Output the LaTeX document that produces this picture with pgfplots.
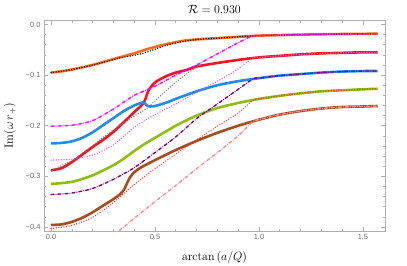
\documentclass[border=0pt]{standalone}
\usepackage{fontspec}
\usepackage{pgfplots}
\pgfplotsset{compat=1.18}
\newfontfamily\tickfont{Liberation Sans}
\definecolor{corange}{RGB}{255,105,25}
\definecolor{cred}{RGB}{245,20,30}
\definecolor{cblue}{RGB}{30,140,240}
\definecolor{cgreen}{RGB}{140,190,20}
\definecolor{cbrown}{RGB}{170,75,25}
\definecolor{cmag}{RGB}{255,0,255}
\definecolor{cviolet}{RGB}{210,90,230}
\definecolor{cpurple}{RGB}{128,0,128}
\definecolor{creddot}{RGB}{255,50,50}
\definecolor{cpale}{RGB}{255,140,140}
\definecolor{cgray}{RGB}{120,120,120}
\definecolor{cframe}{RGB}{175,175,175}
\definecolor{ctick}{RGB}{110,110,110}
\tikzset{
  solidc/.style={line width=2.6bp, line join=round, smooth, tension=0.4},
  mdot/.style={line width=1.5bp, line cap=round, dash pattern=on 0.01bp off 2.6bp, smooth, tension=0.4},
  mdashdot/.style={line width=1.4bp, line cap=round, dash pattern=on 3bp off 2bp on 0.01bp off 2bp, smooth, tension=0.4},
}
\begin{document}
\begin{tikzpicture}
\useasboundingbox (-44bp,-35bp) rectangle (363bp,231bp);
\begin{axis}[
  at={(0,0)}, anchor=south west,
  scale only axis, width=341bp, height=210.3bp,
  xmin=-0.0337, xmax=1.606, ymin=-0.408, ymax=0.0075,
  axis line style={cframe, line width=0.6bp},
  tick style={cframe, line width=0.6bp},
  major tick length=4bp, minor tick length=2.2bp,
  tick align=inside,
  xtick={0,0.5,1,1.5}, xticklabels={0.0,0.5,1.0,1.5},
  ytick={-0.4,-0.3,-0.2,-0.1,0}, yticklabels={−0.4,−0.3,−0.2,−0.1,0.0},
  minor x tick num=4, minor y tick num=4,
  ticklabel style={font=\tickfont\fontsize{7.5}{9}\selectfont, text=ctick},
  every axis title shift=0pt,
  title={$\mathcal{R} = 0.930$},
  title style={font=\fontsize{12}{14}\selectfont, at={(axis description cs:0.5,1.036)}, anchor=base},
  xlabel={$\arctan\,(a/Q)$},
  xlabel style={font=\fontsize{12}{14}\selectfont, at={(axis description cs:0.5,-0.14)}, anchor=base},
  ylabel={$\mathrm{Im}(\omega\, r_+)$},
  ylabel style={font=\fontsize{12}{14}\selectfont, at={(axis description cs:-0.091,0.5)}, anchor=base},
]
% solid curves
\addplot[solidc, corange] coordinates {(0,-0.095)(0.05,-0.0925)(0.107,-0.0885)(0.2,-0.080)(0.268,-0.072)(0.33,-0.065)(0.396,-0.0575)(0.476,-0.047)(0.564,-0.038)(0.64,-0.032)(0.716,-0.029)(0.8,-0.027)(0.875,-0.025)(1.0,-0.022)(1.1,-0.021)(1.2,-0.020)(1.36,-0.019)(1.5,-0.0185)(1.571,-0.018)};
\addplot[solidc, cred] coordinates {(0,-0.288)(0.05,-0.284)(0.1,-0.272)(0.15,-0.257)(0.2,-0.242)(0.25,-0.228)(0.3,-0.212)(0.35,-0.193)(0.4,-0.173)(0.43,-0.162)(0.445,-0.155)(0.455,-0.146)(0.463,-0.136)(0.474,-0.127)(0.487,-0.120)(0.505,-0.113)(0.53,-0.107)(0.56,-0.101)(0.6,-0.095)(0.65,-0.090)(0.7,-0.083)(0.8,-0.076)(0.9,-0.070)(1.0,-0.065)(1.1,-0.062)(1.2,-0.059)(1.3,-0.057)(1.4,-0.056)(1.5,-0.055)(1.571,-0.055)};
\addplot[solidc, cblue] coordinates {(0,-0.235)(0.05,-0.234)(0.1,-0.231)(0.15,-0.224)(0.2,-0.213)(0.25,-0.199)(0.3,-0.185)(0.35,-0.171)(0.4,-0.160)(0.44,-0.154)(0.45,-0.155)(0.46,-0.160)(0.475,-0.162)(0.5,-0.161)(0.55,-0.155)(0.6,-0.147)(0.7,-0.132)(0.8,-0.120)(0.9,-0.112)(1.0,-0.106)(1.1,-0.101)(1.2,-0.098)(1.3,-0.095)(1.4,-0.093)(1.5,-0.092)(1.571,-0.092)};
\addplot[solidc, cgreen] coordinates {(0,-0.315)(0.1,-0.311)(0.2,-0.298)(0.3,-0.278)(0.35,-0.265)(0.4,-0.250)(0.45,-0.236)(0.5,-0.224)(0.6,-0.200)(0.7,-0.180)(0.8,-0.165)(0.9,-0.155)(1.0,-0.147)(1.1,-0.141)(1.2,-0.136)(1.3,-0.132)(1.4,-0.130)(1.5,-0.128)(1.571,-0.127)};
\addplot[solidc, cbrown] coordinates {(0,-0.396)(0.05,-0.395)(0.1,-0.390)(0.15,-0.382)(0.2,-0.371)(0.25,-0.358)(0.3,-0.345)(0.33,-0.336)(0.35,-0.327)(0.365,-0.314)(0.38,-0.302)(0.4,-0.292)(0.43,-0.283)(0.5,-0.268)(0.6,-0.248)(0.7,-0.230)(0.8,-0.214)(0.9,-0.200)(1.0,-0.188)(1.1,-0.178)(1.2,-0.171)(1.3,-0.166)(1.4,-0.163)(1.5,-0.162)(1.571,-0.161)};
% dotted / dash-dotted curves
\addplot[mdot, black] coordinates {(0,-0.095)(0.05,-0.0925)(0.107,-0.0885)(0.2,-0.080)(0.268,-0.073)(0.33,-0.066)(0.4,-0.061)(0.45,-0.056)(0.5,-0.049)(0.564,-0.040)(0.64,-0.033)(0.716,-0.029)(0.8,-0.027)(0.875,-0.025)(1.0,-0.022)(1.1,-0.021)(1.2,-0.020)(1.36,-0.019)(1.5,-0.0185)(1.571,-0.018)};
\addplot[mdashdot, cmag] coordinates {(0,-0.201)(0.1,-0.199)(0.2,-0.190)(0.3,-0.167)(0.4,-0.140)(0.5,-0.122)(0.6,-0.100)(0.7,-0.080)(0.8,-0.058)(0.9,-0.036)(0.97,-0.022)(1.0,-0.022)(1.1,-0.021)(1.2,-0.020)(1.36,-0.019)(1.5,-0.0185)(1.571,-0.018)};
\addplot[mdot, cgray] coordinates {(0,-0.288)(0.1,-0.269)(0.2,-0.239)(0.3,-0.208)(0.4,-0.181)(0.46,-0.166)(0.5,-0.151)(0.55,-0.132)(0.6,-0.114)(0.65,-0.098)(0.7,-0.084)(0.72,-0.080)};
\addplot[mdot, cviolet] coordinates {(0,-0.268)(0.1,-0.266)(0.2,-0.258)(0.3,-0.238)(0.4,-0.203)(0.5,-0.178)(0.6,-0.157)(0.7,-0.134)(0.8,-0.112)(0.9,-0.088)(0.97,-0.066)(1.0,-0.065)(1.1,-0.062)(1.2,-0.059)(1.3,-0.057)(1.4,-0.056)(1.5,-0.055)(1.571,-0.055)};
\addplot[mdashdot, cpurple] coordinates {(0,-0.336)(0.1,-0.333)(0.2,-0.324)(0.3,-0.306)(0.4,-0.283)(0.5,-0.253)(0.6,-0.222)(0.7,-0.186)(0.8,-0.157)(0.9,-0.128)(0.973,-0.107)(1.0,-0.106)(1.1,-0.101)(1.2,-0.098)(1.3,-0.095)(1.4,-0.093)(1.5,-0.092)(1.571,-0.092)};
\addplot[mdot, creddot] coordinates {(0,-0.403)(0.1,-0.397)(0.2,-0.381)(0.3,-0.352)(0.4,-0.316)(0.5,-0.285)(0.6,-0.256)(0.7,-0.228)(0.8,-0.201)(0.9,-0.175)(0.97,-0.150)(1.0,-0.147)(1.1,-0.141)(1.2,-0.136)(1.3,-0.132)(1.4,-0.130)(1.5,-0.128)(1.571,-0.127)};
\addplot[mdashdot, cpale] coordinates {(0.25,-0.433)(0.32,-0.410)(0.4,-0.383)(0.5,-0.350)(0.6,-0.318)(0.7,-0.285)(0.8,-0.253)(0.9,-0.220)(0.97,-0.192)(1.0,-0.188)(1.1,-0.178)(1.2,-0.171)(1.3,-0.166)(1.4,-0.163)(1.5,-0.162)(1.571,-0.161)};
\end{axis}
\end{tikzpicture}
\end{document}
